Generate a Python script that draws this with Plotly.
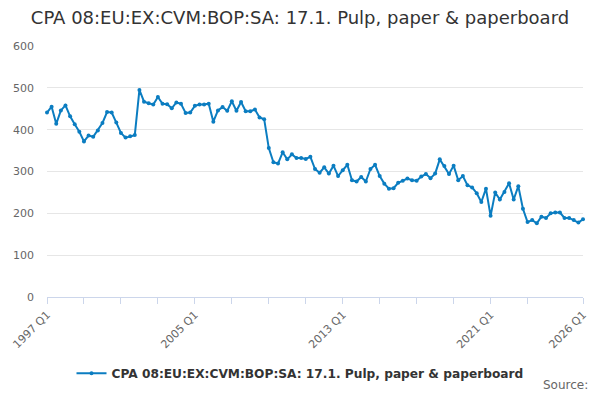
import plotly.graph_objects as go

# quarterly categories 1997 Q1 .. 2026 Q1
quarters = [f"{y} Q{q}" for y in range(1997, 2027) for q in range(1, 5)][:117]

values = [
    441, 455, 414, 446, 458, 432, 413, 395, 372, 386, 383, 398, 416, 442, 441, 417, 392, 381, 384, 387,
    495, 467, 463, 460, 478, 462, 461, 451, 465, 462, 440, 441, 457, 460, 460, 462, 419, 446, 454, 445,
    468, 445, 466, 444, 444, 448, 429, 425, 356, 322, 319, 346, 329, 341, 332, 332, 330, 335, 306, 297,
    310, 295, 314, 289, 303, 316, 279, 276, 287, 276, 306, 316, 289, 271, 259, 260, 273, 278, 283, 279,
    278, 288, 294, 284, 295, 329, 313, 294, 314, 279, 289, 267, 262, 248, 227, 259, 194, 250, 233, 251,
    272, 233, 265, 211, 179, 184, 176, 192, 189, 200, 202, 202, 189, 189, 184, 178, 186,
]

series_name = "CPA 08:EU:EX:CVM:BOP:SA: 17.1. Pulp, paper & paperboard"

tick_quarters = ["1997 Q1", "1999 Q1", "2001 Q1", "2003 Q1", "2005 Q1", "2007 Q1", "2009 Q1",
                 "2011 Q1", "2013 Q1", "2015 Q1", "2017 Q1", "2019 Q1", "2021 Q1", "2023 Q1", "2026 Q1"]
labelled = ["1997 Q1", "2005 Q1", "2013 Q1", "2021 Q1", "2026 Q1"]
tick_text = [t if t in labelled else "" for t in tick_quarters]

blue = "#0b7dc1"

fig = go.Figure()
fig.add_trace(go.Scatter(
    x=quarters, y=values, mode="lines+markers", name=series_name,
    line=dict(color=blue, width=2),
    marker=dict(color=blue, size=4),
    cliponaxis=False,
))

# page body has an 8px margin, so the figure is 584x384
fig.update_layout(
    width=584, height=384,
    margin=dict(l=39, r=9, t=38, b=95),
    paper_bgcolor="white", plot_bgcolor="white",
    font=dict(family="DejaVu Sans", color="#666666", size=11),
    title=dict(text="CPA 08:EU:EX:CVM:BOP:SA: 17.1. Pulp, paper & paperboard",
               x=0.5, xanchor="center", y=0.974, yanchor="middle",
               font=dict(size=18, color="#333333")),
    showlegend=True,
    legend=dict(orientation="h", x=0.5, xanchor="center", xref="container",
                y=0.049, yanchor="middle", yref="container",
                font=dict(size=12.2, color="#333333", weight="bold")),
)

fig.update_xaxes(
    type="category", range=[0, 116], automargin=False,
    tickmode="array", tickvals=tick_quarters, ticktext=tick_text,
    tickangle=-45, ticks="outside", ticklen=6, tickcolor="#ccd6eb",
    showline=True, linecolor="#ccd6eb", linewidth=1,
    showgrid=False, tickfont=dict(size=11, color="#666666"),
)
fig.update_yaxes(
    range=[0, 600], tickvals=[0, 100, 200, 300, 400, 500, 600], automargin=False,
    showgrid=True, gridcolor="#e6e6e6", zeroline=False,
    ticks="", ticklabelstandoff=12, tickfont=dict(size=11, color="#666666"),
)

fig.add_annotation(text="Source:", xref="paper", yref="paper", x=1.013, y=-0.351,
                   xanchor="right", yanchor="middle", showarrow=False,
                   font=dict(size=12, color="#666666"))

fig.write_html("out.html")
